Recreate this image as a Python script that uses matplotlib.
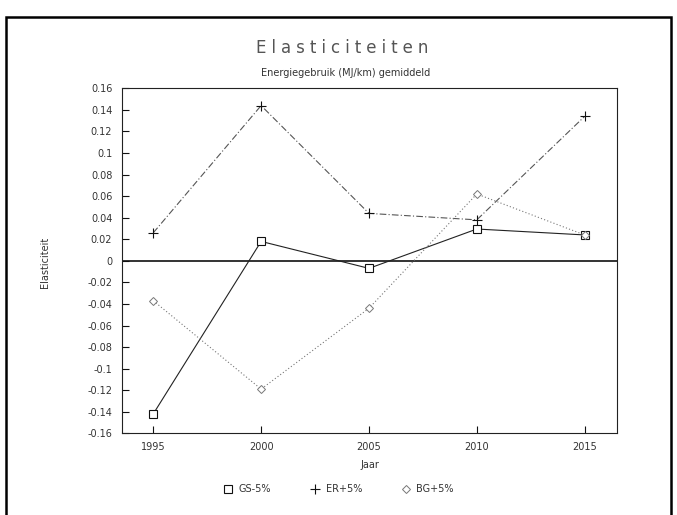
import matplotlib
matplotlib.use("Agg")
import matplotlib.pyplot as plt
from matplotlib.lines import Line2D
from matplotlib.patches import Rectangle

# data
years = [1995, 2000, 2005, 2010, 2015]
gs_min5 = [-0.142, 0.018, -0.007, 0.0295, 0.024]
er_plus5 = [0.026, 0.144, 0.044, 0.038, 0.134]
bg_plus5 = [-0.037, -0.119, -0.044, 0.062, 0.024]
series_names = ["GS-5%", "ER+5%", "BG+5%"]
yticks = [-0.16, -0.14, -0.12, -0.1, -0.08, -0.06, -0.04, -0.02, 0,
          0.02, 0.04, 0.06, 0.08, 0.1, 0.12, 0.14, 0.16]

TXT = "#333333"

fig = plt.figure(figsize=(6.77, 5.15), dpi=100)
ax = fig.add_axes([0.1802, 0.1586, 0.7312, 0.6699])

## Series -------------------------------------------

ax.plot(years, gs_min5, color="#222222", lw=0.8, linestyle="solid",
        marker="s", ms=6, mfc="white", mec="#111111", mew=0.8, zorder=3)
ax.plot(years, er_plus5, color="#555555", lw=0.8, linestyle=(0, (6, 2, 1, 2)),
        marker="+", ms=7, mec="#111111", mew=0.8, zorder=3)
ax.plot(years, bg_plus5, color="#777777", lw=0.8, linestyle=(0, (1, 2)),
        marker="D", ms=4, mfc="white", mec="#777777", mew=0.7, zorder=3)

ax.axhline(0, color="#111111", lw=1.2, zorder=2)

## Axes ---------------------------------------------

ax.set_xlim(1993.55, 2016.5)
ax.set_ylim(-0.16, 0.16)
ax.set_xticks(years)
ax.set_yticks(yticks)
ax.set_yticklabels([f"{round(v, 2):g}" if v != 0 else "0" for v in yticks])
ax.tick_params(direction="in", length=5, width=0.8, labelsize=7,
               labelcolor=TXT, color="#111111", pad=6)
ax.tick_params(axis="y", pad=7)
for s in ax.spines.values():
    s.set_linewidth(0.8)
    s.set_color("#222222")

ax.set_xlabel("Jaar", fontsize=7, color=TXT, labelpad=6)
fig.text(0.066, 0.491, "Elasticiteit", rotation=90, fontsize=7,
         color=TXT, ha="center", va="center")

fig.text(0.505, 0.907, "\u2009\u200a".join("Elasticiteiten"), fontsize=12,
         color="#555555", ha="center", va="center")
fig.text(0.51, 0.858, "Energiegebruik (MJ/km) gemiddeld", fontsize=7,
         color=TXT, ha="center", va="center")

## Legend -------------------------------------------

handles = [
    Line2D([], [], linestyle="none", marker="s", ms=6, mfc="white", mec="#111111", mew=0.8),
    Line2D([], [], linestyle="none", marker="+", ms=7, mec="#111111", mew=0.8),
    Line2D([], [], linestyle="none", marker="D", ms=4, mfc="white", mec="#777777", mew=0.7),
]
leg = fig.legend(handles, series_names, loc="center", bbox_to_anchor=(0.50, 0.05),
                 ncol=3, frameon=False, fontsize=7, handlelength=1.0,
                 handletextpad=0.6, columnspacing=4.0)
for t in leg.get_texts():
    t.set_color(TXT)

## Outer frame --------------------------------------

fig.patches.append(Rectangle((0.009, -0.05), 0.982, 1.017, transform=fig.transFigure,
                             fill=False, edgecolor="black", lw=1.8, clip_on=False))

fig.savefig("out.png", dpi=100)
